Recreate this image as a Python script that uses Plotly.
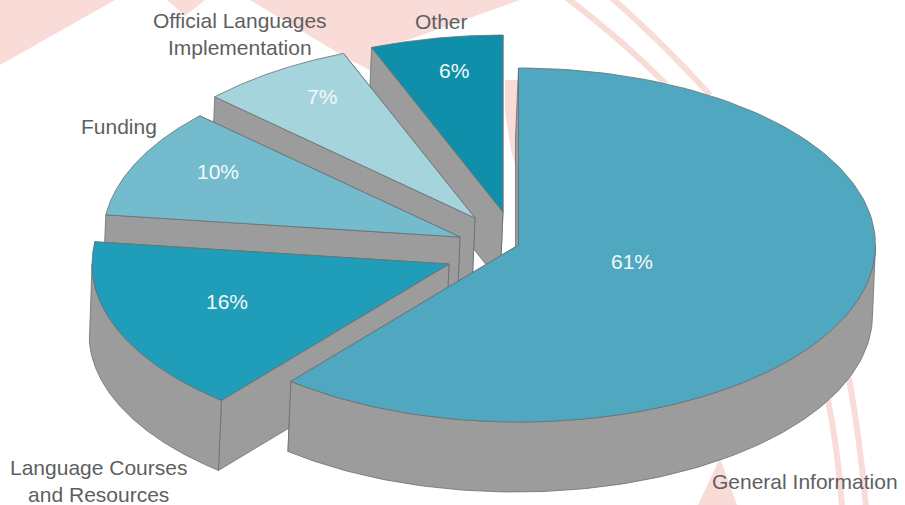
import numpy as np
import plotly.graph_objects as go

# Survey breakdown, in clockwise order starting from twelve o'clock
categories = ["General Information", "Language Courses<br>and Resources", "Funding",
              "Official Languages<br>Implementation", "Other"]
shares = [61, 16, 10, 7, 6]

# Appearance of each wedge
wedge_colors = ["#4fa8bf", "#1f9db9", "#74bccd", "#a6d4dd", "#0f8fa9"]
apex_x = [518.5, 449, 460, 475, 503]
apex_y = [245, 264, 237, 218, 212]
RX, RY = 357, 177
DEPTH_X, DEPTH_Y = -3, 70
SIDE = "#9c9c9c"
EDGE = "#6a6f71"
PINK = "#f9dcd8"

pct_x = [632, 227, 218, 322, 454]
pct_y = [261, 301, 171, 96, 70]
name_x = [805, 98, 119, 240, 441]
name_y = [481, 481, 126, 34, 21]

fig = go.Figure()


def face(xs, ys, color):
    fig.add_trace(go.Scatter(x=xs, y=ys, mode="lines", fill="toself", fillcolor=color,
                             line=dict(color=EDGE, width=0.8), hoverinfo="skip", showlegend=False))


def ellipse(cx, cy, angles):
    return cx + RX * np.sin(angles), cy - RY * np.cos(angles)


edges = np.concatenate([[0], np.cumsum(shares)]) / sum(shares) * 2 * np.pi
starts, stops = edges[:-1], edges[1:]

# Paint from the back of the pie to the front so nearer wedges overlap farther ones
for i in reversed(range(len(shares))):
    cx, cy = apex_x[i], apex_y[i]
    a, b = starts[i], stops[i]

    # Flat radial walls along both straight edges
    for t in (b, a):
        ex, ey = ellipse(cx, cy, np.array([t]))
        wx = [cx, ex[0], ex[0] + DEPTH_X, cx + DEPTH_X, cx]
        wy = [cy, ey[0], ey[0] + DEPTH_Y, cy + DEPTH_Y, cy]
        face(wx, wy, SIDE)

    # Curved outer wall, only on the half of the rim that faces the viewer
    lo, hi = max(a, np.pi / 2), min(b, 3 * np.pi / 2)
    if lo < hi:
        th = np.linspace(lo, hi, 120)
        ox, oy = ellipse(cx, cy, th)
        face(np.concatenate([ox, ox[::-1] + DEPTH_X, ox[:1]]),
             np.concatenate([oy, oy[::-1] + DEPTH_Y, oy[:1]]), SIDE)

    # Top surface
    th = np.linspace(a, b, 160)
    tx, ty = ellipse(cx, cy, th)
    face(np.concatenate([[cx], tx, [cx]]), np.concatenate([[cy], ty, [cy]]), wedge_colors[i])

# Percentage values on the wedges and category names around the pie
for i, value in enumerate(shares):
    fig.add_annotation(x=pct_x[i], y=pct_y[i], text=f"{value}%", showarrow=False,
                       font=dict(family="Liberation Sans", size=21, color="#f2f8f9"))
    fig.add_annotation(x=name_x[i], y=name_y[i], text=categories[i], showarrow=False,
                       font=dict(family="Liberation Sans", size=21, color="#5e5f61"))

# Pale red emblem printed behind the pie
backdrop = [
    "M 0 0 L 115 0 L 0 65 Z",
    "M 167 0 L 185 16 L 205 0 Z",
    "M 250 0 L 345 57 L 373 72 L 373 48 L 408 40 L 520 0 Z",
    "M 505 80 L 518 80 L 518 175 L 511 150 L 505 112 Z",
    "M 698 505 L 720 458 L 737 505 Z",
]
shapes = [dict(type="path", path=p, fillcolor=PINK, line=dict(width=0), layer="below") for p in backdrop]
for p in ["M 567 -2 Q 620 38 666 84", "M 612 -2 Q 665 45 710 95",
          "M 828 400 Q 838 450 842 507", "M 849 378 Q 860 440 866 507"]:
    shapes.append(dict(type="path", path=p, line=dict(color=PINK, width=6), layer="below"))

fig.update_layout(
    width=905, height=505, margin=dict(l=0, r=0, t=0, b=0),
    paper_bgcolor="white", plot_bgcolor="white", showlegend=False, shapes=shapes,
    xaxis=dict(range=[0, 905], visible=False, fixedrange=True),
    yaxis=dict(range=[505, 0], visible=False, fixedrange=True),
)
fig.write_html("out.html", config=dict(displayModeBar=False))
